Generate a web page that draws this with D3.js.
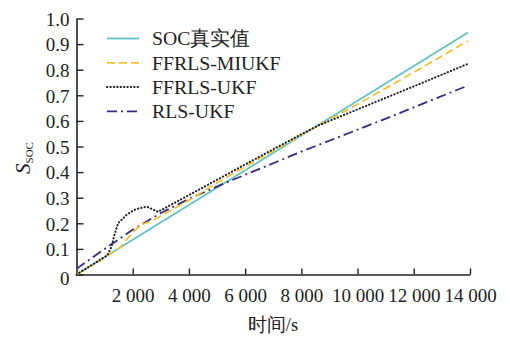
<!DOCTYPE html>
<html>
<head>
<meta charset="utf-8">
<script src="https://cdn.jsdelivr.net/npm/d3@7"></script>
<style>
  html, body { margin: 0; padding: 0; background: #fff; }
  svg text { font-family: "Liberation Serif", "Times New Roman", serif; fill: #222; }
</style>
</head>
<body>
<svg id="chart" width="510" height="338"></svg>
<script>
// Time stamps (s) and SOC estimates for each method
const seriesNames = ["SOC真实值", "FFRLS-MIUKF", "FFRLS-UKF", "RLS-UKF"];

const trueT   = [0, 13930];
const trueSOC = [0, 0.945];

const miukfT   = [0, 1000, 1550, 2000, 2300, 2700, 4000, 5100, 8000, 10000, 12000, 13930];
const miukfSOC = [0, 0.065, 0.105, 0.165, 0.195, 0.21, 0.29, 0.365, 0.545, 0.665, 0.79, 0.912];

const ukfT   = [0, 1100, 1250, 1350, 1480, 1800, 2100, 2500, 2800, 2900, 4000, 6000, 8000, 8600, 10000, 12000, 13930];
const ukfSOC = [0, 0.075, 0.11, 0.155, 0.2, 0.235, 0.255, 0.265, 0.25, 0.245, 0.31, 0.43, 0.548, 0.582, 0.645, 0.735, 0.823];

const rlsT   = [0, 1000, 2000, 3000, 4000, 5345, 8000, 10800, 13930];
const rlsSOC = [0.022, 0.1, 0.175, 0.24, 0.295, 0.36, 0.48, 0.6, 0.738];

const xTicks = [2000, 4000, 6000, 8000, 10000, 12000, 14000];
const yTicks = [0, 0.1, 0.2, 0.3, 0.4, 0.5, 0.6, 0.7, 0.8, 0.9, 1.0];

const colors = ["#62c3c6", "#f2c22e", "#1e1e2a", "#3a2a85"];
const dashes = [null, "8,4", "0.4,3", "10,4,2,4"];
const widths = [1.8, 1.8, 2, 1.8];
const caps   = ["butt", "butt", "round", "butt"];

const svg = d3.select("#chart");
const x = d3.scaleLinear().domain([0, 14000]).range([76.5, 470]);
const y = d3.scaleLinear().domain([0, 1]).range([274.5, 18.5]);

const fmtX = d => d3.format(",")(d).replace(",", " ");
const fmtY = d => d === 0 ? "0" : d3.format(".1f")(d);

// x axis
const gx = svg.append("g").attr("transform", `translate(0,${y(0)})`)
  .call(d3.axisBottom(x).tickValues(xTicks).tickSizeInner(-6).tickSizeOuter(0).tickPadding(14).tickFormat(fmtX));
// y axis
const gy = svg.append("g").attr("transform", `translate(${x(0)},0)`)
  .call(d3.axisLeft(y).tickValues(yTicks).tickSizeInner(-7).tickSizeOuter(0).tickPadding(7).tickFormat(fmtY));

[gx, gy].forEach(g => {
  g.select(".domain").attr("stroke", "#222").attr("stroke-width", 1.6);
  g.selectAll(".tick line").attr("stroke", "#222").attr("stroke-width", 1.4);
  g.selectAll(".tick text").attr("font-size", 19).attr("fill", "#222")
    .attr("font-family", "'Liberation Serif', serif");
});
gy.selectAll(".tick text").attr("dy", "0.36em");
// the zero label sits on the x axis corner
gy.selectAll(".tick").filter(d => d === 0).select("text").attr("dy", "0.5em");

// series lines
const line = d3.line().x(d => x(d[0])).y(d => y(d[1]));
const data = [
  d3.zip(trueT, trueSOC),
  d3.zip(miukfT, miukfSOC),
  d3.zip(ukfT, ukfSOC),
  d3.zip(rlsT, rlsSOC)
];
const drawOrder = [0, 3, 1, 2];
drawOrder.forEach(i => {
  svg.append("path")
    .datum(data[i])
    .attr("d", line)
    .attr("fill", "none")
    .attr("stroke", colors[i])
    .attr("stroke-width", widths[i])
    .attr("stroke-dasharray", dashes[i])
    .attr("stroke-linecap", caps[i]);
});

// legend
const legend = svg.append("g");
seriesNames.forEach((name, i) => {
  const ly = 38.5 + i * 24.3;
  legend.append("line")
    .attr("x1", 107).attr("x2", 139).attr("y1", ly).attr("y2", ly)
    .attr("stroke", colors[i]).attr("stroke-width", widths[i])
    .attr("stroke-dasharray", dashes[i])
    .attr("stroke-linecap", caps[i]);
  legend.append("text")
    .attr("x", 152).attr("y", ly + 6.8)
    .attr("font-size", 19.8)
    .attr("font-family", "'Liberation Serif', 'Noto Sans CJK SC', serif")
    .text(name);
});

// axis titles
svg.append("text")
  .attr("x", 273).attr("y", 331)
  .attr("text-anchor", "middle")
  .attr("font-size", 18.5)
  .attr("font-family", "'Noto Sans CJK SC', serif")
  .text("时间/")
  .append("tspan").attr("font-family", "'Liberation Serif', serif").text("s");

const yl = svg.append("text")
  .attr("transform", "translate(30,158) rotate(-90)")
  .attr("text-anchor", "middle");
yl.append("tspan").attr("font-size", 21).attr("font-style", "italic").text("S");
yl.append("tspan").attr("font-size", 11).attr("dy", 3).text("SOC");
</script>
</body>
</html>
